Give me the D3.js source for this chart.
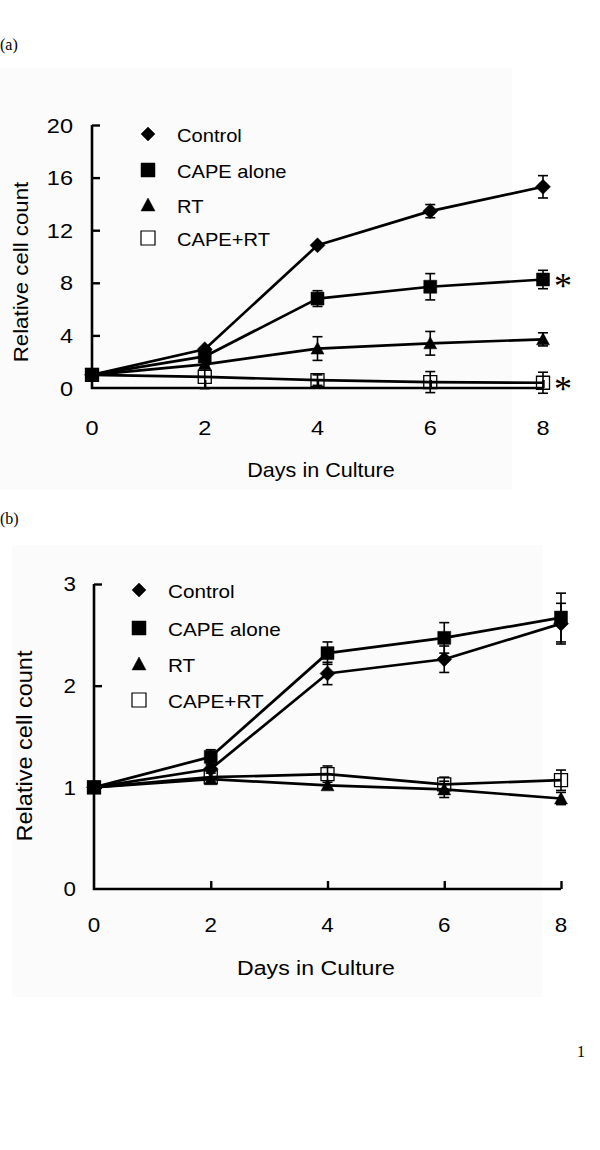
<!DOCTYPE html>
<html><head><meta charset="utf-8">
<script src="https://cdn.jsdelivr.net/npm/d3@7"></script>
<style>
html,body{margin:0;padding:0;background:#fff;}
svg{display:block;}
</style></head>
<body>
<svg id="chart" width="600" height="1150"></svg>
<script>
// ---------- data ----------
const days = [0, 2, 4, 6, 8];
const seriesNames = ["Control", "CAPE alone", "RT", "CAPE+RT"];
const seriesSymbols = ["diamond", "square", "triangle", "openSquare"];

// Panel (a)
const aControl = [1.0, 2.95, 10.85, 13.45, 15.3];
const aControlErr = [0.1, 0.3, 0.3, 0.5, 0.85];
const aCape = [1.0, 2.4, 6.8, 7.7, 8.25];
const aCapeErr = [0.1, 0.4, 0.6, 1.0, 0.7];
const aRT = [1.0, 1.8, 3.0, 3.4, 3.7];
const aRTErr = [0.1, 0.3, 0.9, 0.9, 0.5];
const aCapeRT = [1.0, 0.85, 0.6, 0.45, 0.4];
const aCapeRTErr = [0.1, 0.9, 0.4, 0.8, 0.8];
const aYTicks = [0, 4, 8, 12, 16, 20];

// Panel (b)
const bControl = [1.0, 1.18, 2.12, 2.26, 2.61];
const bControlErr = [0.02, 0.04, 0.11, 0.13, 0.2];
const bCape = [1.0, 1.3, 2.32, 2.47, 2.67];
const bCapeErr = [0.02, 0.07, 0.11, 0.15, 0.24];
const bRT = [1.0, 1.08, 1.02, 0.98, 0.89];
const bRTErr = [0.02, 0.03, 0.03, 0.08, 0.06];
const bCapeRT = [1.0, 1.1, 1.13, 1.03, 1.07];
const bCapeRTErr = [0.02, 0.03, 0.08, 0.07, 0.1];
const bYTicks = [0, 1, 2, 3];

const xTicks = [0, 2, 4, 6, 8];
const xTitle = "Days in Culture";
const yTitle = "Relative cell count";

// ---------- drawing ----------
const svg = d3.select("#chart");
const SANS = "'Liberation Sans', Arial, sans-serif";
const SERIF = "'Liberation Serif', 'Times New Roman', serif";

function symbolPath(kind, size) {
  const h = size / 2;
  if (kind === "diamond") return `M0,${-h}L${h},0L0,${h}L${-h},0Z`;
  if (kind === "triangle") return `M0,${-h}L${h},${h * 0.85}L${-h},${h * 0.85}Z`;
  return `M${-h},${-h}H${h}V${h}H${-h}Z`;
}

// text with horizontal stretch (the original lettering is wider than Arial)
function stext(g, x, y, str, size, sx, anchor, rot) {
  return g.append("text")
    .attr("transform", `translate(${x},${y})${rot ? " rotate(-90)" : ""} scale(${sx},1)`)
    .attr("dy", "0.36em").attr("text-anchor", anchor)
    .attr("font-family", SANS).attr("font-size", size).text(str);
}

function drawPanel(cfg) {
  const g = svg.append("g");
  g.append("rect").attr("x", cfg.bg[0]).attr("y", cfg.bg[1])
    .attr("width", cfg.bg[2]).attr("height", cfg.bg[3]).attr("fill", "#fbfbfb");

  const x = d3.scaleLinear().domain([0, 8]).range(cfg.xRange);
  const y = d3.scaleLinear().domain(cfg.yDomain).range(cfg.yRange);

  // axes with inward ticks
  const yAxis = d3.axisRight(y).tickValues(cfg.yTicks.slice(1)).tickSize(8).tickFormat("");
  const gy = g.append("g").attr("transform", `translate(${cfg.xRange[0]},0)`).call(yAxis);
  const xAxis = d3.axisTop(x).tickValues(xTicks.slice(1)).tickSize(8).tickFormat("");
  const gx = g.append("g").attr("transform", `translate(0,${cfg.yRange[0]})`).call(xAxis);
  [gx, gy].forEach(a => {
    a.select("path.domain").remove();
    a.selectAll("line").attr("stroke", "#000").attr("stroke-width", 2.4);
  });
  g.append("path")
    .attr("d", `M${cfg.xRange[0]},${cfg.yRange[1]}V${cfg.yRange[0]}H${cfg.xRange[1]}`)
    .attr("fill", "none").attr("stroke", "#000").attr("stroke-width", 2.6);

  // tick labels
  cfg.yTicks.forEach(d => stext(g, cfg.yLabelX, y(d), d, cfg.tickFont, cfg.tickSx, "end"));
  xTicks.forEach(d => stext(g, x(d), cfg.xLabelY, d, cfg.tickFont, cfg.tickSx, "middle"));

  // titles
  stext(g, cfg.xTitleX, cfg.xTitleY, xTitle, cfg.titleFont, cfg.titleSx, "middle");
  stext(g, cfg.yTitleX, cfg.yTitleY, yTitle, cfg.yTitleFont, cfg.yTitleSx, "middle", true);

  const line = d3.line().x((d, i) => x(days[i])).y(d => y(d));
  cfg.series.forEach(s => {
    g.append("path").attr("d", line(s.vals)).attr("fill", "none")
      .attr("stroke", "#000").attr("stroke-width", 2.7).attr("stroke-linejoin", "round");
  });

  // error bars
  const cap = 5;
  cfg.series.forEach(s => {
    s.vals.forEach((v, i) => {
      const e = s.err[i];
      const cx = x(days[i]);
      const y1 = y(v + e), y2 = y(v - e);
      if (Math.abs(y2 - y1) < 8) return;
      g.append("line").attr("x1", cx).attr("x2", cx).attr("y1", y1).attr("y2", y2)
        .attr("stroke", "#000").attr("stroke-width", 1.6);
      [y1, y2].forEach(yy => g.append("line").attr("x1", cx - cap).attr("x2", cx + cap)
        .attr("y1", yy).attr("y2", yy).attr("stroke", "#000").attr("stroke-width", 1.6));
    });
  });

  // markers
  [2, 3, 0, 1].forEach(k => {
    const s = cfg.series[k];
    s.vals.forEach((v, i) => {
      const open = s.sym === "openSquare";
      g.append("path").attr("d", symbolPath(s.sym, s.sym === "diamond" ? 15 : 13))
        .attr("transform", `translate(${x(days[i])},${y(v)})`)
        .attr("fill", open ? "none" : "#000").attr("stroke", "#000")
        .attr("stroke-width", open ? 1.3 : 0.5);
    });
  });

  // legend
  cfg.series.forEach((s, k) => {
    const ly = cfg.legendY[k];
    const open = s.sym === "openSquare";
    g.append("path").attr("d", symbolPath(s.sym, s.sym === "diamond" ? 14 : 14))
      .attr("transform", `translate(${cfg.legendX},${ly})`)
      .attr("fill", open ? "#fff" : "#000").attr("stroke", "#000")
      .attr("stroke-width", open ? 1.2 : 0.5);
    stext(g, cfg.legendX + 29, ly + 2, seriesNames[k], cfg.legendFont, cfg.legendSx, "start");
  });

  // significance asterisks
  (cfg.stars || []).forEach(k => {
    const s = cfg.series[k];
    g.append("text").attr("x", x(8) + 11).attr("y", y(s.vals[4])).attr("dy", "0.5em")
      .attr("font-family", SERIF).attr("font-size", 36).text("*");
  });

  g.append("text").attr("x", 0).attr("y", cfg.tagY).attr("font-family", SERIF)
    .attr("font-size", 16).text(cfg.tag);
}

drawPanel({
  tag: "(a)", tagY: 50,
  bg: [0, 68, 512, 422],
  xRange: [92, 543], yDomain: [0, 20], yRange: [388, 125], yTicks: aYTicks,
  yLabelX: 73, xLabelY: 427, xTitleX: 321, xTitleY: 470, yTitleX: 20, yTitleY: 272,
  tickFont: 21, tickSx: 1.12, titleFont: 20, titleSx: 1.08,
  yTitleFont: 21, yTitleSx: 1.06,
  legendFont: 17.5, legendSx: 1.15,
  legendX: 148, legendY: [134, 170, 205, 238],
  series: [
    { vals: aControl, err: aControlErr, sym: seriesSymbols[0] },
    { vals: aCape, err: aCapeErr, sym: seriesSymbols[1] },
    { vals: aRT, err: aRTErr, sym: seriesSymbols[2] },
    { vals: aCapeRT, err: aCapeRTErr, sym: seriesSymbols[3] }
  ],
  stars: [1, 3]
});

drawPanel({
  tag: "(b)", tagY: 524,
  bg: [12, 545, 530, 452],
  xRange: [94, 561], yDomain: [0, 3], yRange: [889, 584], yTicks: bYTicks,
  yLabelX: 76, xLabelY: 925, xTitleX: 316, xTitleY: 967, yTitleX: 24, yTitleY: 746,
  tickFont: 20, tickSx: 1.12, titleFont: 21, titleSx: 1.1,
  yTitleFont: 22, yTitleSx: 1.07,
  legendFont: 18, legendSx: 1.15,
  legendX: 139, legendY: [590, 628, 664, 700],
  series: [
    { vals: bControl, err: bControlErr, sym: seriesSymbols[0] },
    { vals: bCape, err: bCapeErr, sym: seriesSymbols[1] },
    { vals: bRT, err: bRTErr, sym: seriesSymbols[2] },
    { vals: bCapeRT, err: bCapeRTErr, sym: seriesSymbols[3] }
  ],
  stars: []
});

svg.append("text").attr("x", 577).attr("y", 1057).attr("font-family", SERIF)
  .attr("font-size", 16).text("1");
</script>
</body></html>
